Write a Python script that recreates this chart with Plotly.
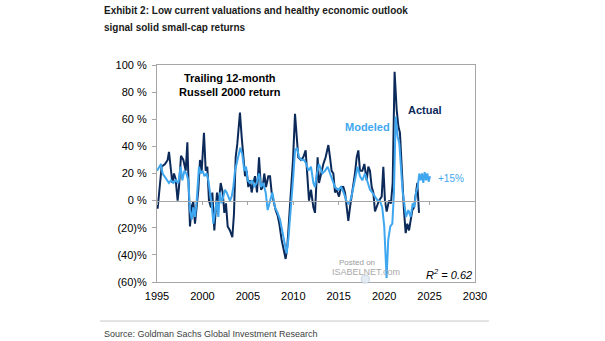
import plotly.graph_objects as go

# Trailing 12-month Russell 2000 return (%), actual vs. modeled
actual_year = [1995.07, 1995.33, 1995.51, 1995.88, 1996.17, 1996.32, 1996.50, 1996.69, 1996.87, 1997.05,
               1997.27, 1997.42, 1997.64, 1997.90, 1998.16, 1998.34, 1998.45, 1998.63, 1998.82, 1999.00,
               1999.18, 1999.37, 1999.55, 1999.73, 1999.92, 2000.17, 2000.36, 2000.54, 2000.72, 2000.94,
               2001.09, 2001.31, 2001.46, 2001.60, 2001.75, 2002.01, 2002.23, 2002.41, 2002.59, 2002.78,
               2003.03, 2003.29, 2003.47, 2003.66, 2003.84, 2004.02, 2004.13, 2004.32, 2004.50, 2004.69,
               2004.87, 2005.05, 2005.24, 2005.42, 2005.60, 2005.79, 2006.01, 2006.23, 2006.45, 2006.63,
               2006.81, 2007.00, 2007.25, 2007.44, 2007.62, 2007.88, 2008.06, 2008.28, 2008.46, 2008.72,
               2008.98, 2009.16, 2009.34, 2009.56, 2009.75, 2009.97, 2010.19, 2010.37, 2010.55, 2010.85,
               2011.10, 2011.36, 2011.58, 2011.73, 2011.95, 2012.21, 2012.39, 2012.55, 2012.68, 2012.83,
               2013.05, 2013.31, 2013.56, 2013.86, 2014.04, 2014.22, 2014.41, 2014.59, 2014.77, 2015.03,
               2015.25, 2015.51, 2015.69, 2015.91, 2016.06, 2016.24, 2016.42, 2016.79, 2016.98, 2017.16,
               2017.34, 2017.60, 2017.82, 2018.08, 2018.26, 2018.44, 2018.63, 2018.81, 2018.99, 2019.18,
               2019.43, 2019.73, 2019.91, 2020.09, 2020.28, 2020.53, 2020.75, 2020.94, 2021.15, 2021.38,
               2021.56, 2021.74, 2021.85, 2022.04, 2022.18, 2022.37, 2022.55, 2022.74, 2022.92, 2023.10,
               2023.29, 2023.47, 2023.65, 2023.84]
actual_ret = [-6, 10, 25, 27, 30, 36, 22, 13, 20, 16,
              0, 10, 33, 30, 22, 43, 18, -19, -4, -1,
              -17, -4, 8, 30, 22, 50, 22, 25, 0, -5,
              6, -22, -2, 6, -5, 13, 6, -9, -2, -19,
              -22, -27, -10, 32, 42, 60, 65, 47, 30, 18,
              22, 10, 15, 6, 13, 18, 6, 32, 8, 10,
              20, 10, 18, 18, 6, -2, -7, -11, -17, -29,
              -39, -43, -34, -14, 10, 30, 64, 47, 32, 30,
              32, 37, 10, 0, 8, -5, -9, 10, 32, 13,
              20, 27, 32, 41, 32, 22, 20, 6, 8, 3,
              10, 10, 6, -5, -15, -5, 3, 20, 32, 37,
              22, 22, 27, 15, 25, 22, 10, 6, -8, -5,
              0, 3, 25, 0, -8, 0, -2, 13, 95, 67,
              55, 50, 35, 6, -7, -24, -17, -22, -14, -7,
              -5, 3, 13, -9]

model_year = [1995.00, 1995.22, 1995.44, 1995.62, 1995.81, 1996.06, 1996.32, 1996.54, 1996.80, 1997.05,
              1997.35, 1997.60, 1997.79, 1998.01, 1998.23, 1998.45, 1998.63, 1998.82, 1999.00, 1999.18,
              1999.37, 1999.62, 1999.81, 2000.03, 2000.21, 2000.47, 2000.65, 2000.83, 2001.02, 2001.20,
              2001.38, 2001.57, 2001.75, 2001.93, 2002.12, 2002.30, 2002.48, 2002.67, 2002.85, 2003.03,
              2003.22, 2003.40, 2003.58, 2003.77, 2003.95, 2004.17, 2004.39, 2004.61, 2004.80, 2004.98,
              2005.24, 2005.49, 2005.71, 2005.97, 2006.23, 2006.45, 2006.70, 2006.96, 2007.18, 2007.44,
              2007.69, 2007.99, 2008.28, 2008.54, 2008.79, 2009.09, 2009.27, 2009.45, 2009.64, 2009.82,
              2010.00, 2010.19, 2010.41, 2010.63, 2010.92, 2011.18, 2011.44, 2011.66, 2011.95, 2012.21,
              2012.39, 2012.61, 2012.83, 2013.20, 2013.49, 2013.78, 2014.04, 2014.30, 2014.59, 2014.96,
              2015.25, 2015.54, 2015.84, 2016.06, 2016.28, 2016.50, 2016.79, 2017.08, 2017.34, 2017.60,
              2017.89, 2018.19, 2018.44, 2018.70, 2018.99, 2019.28, 2019.53, 2019.79, 2020.01, 2020.16,
              2020.27, 2020.45, 2020.68, 2020.90, 2021.08, 2021.27, 2021.49, 2021.67, 2021.85, 2022.04,
              2022.22, 2022.40, 2022.66, 2022.92, 2023.14, 2023.32, 2023.51, 2023.69, 2023.87, 2024.02,
              2024.17, 2024.31, 2024.46, 2024.61, 2024.75, 2024.90, 2025.05]
model_ret = [22, 25, 27, 20, 18, 15, 13, 15, 13, 15,
             13, 25, 15, 22, 20, 15, -7, -14, -5, -12,
             0, 25, 20, 22, 18, 20, 15, 6, -2, -17,
             -10, 0, -12, 6, -2, 3, 8, 6, 3, 0,
             3, 10, 22, 27, 32, 39, 34, 22, 25, 15,
             13, 15, 10, 13, 20, 10, 13, 6, -7, 0,
             6, -5, -9, -14, -22, -31, -39, -29, -14, -2,
             18, 37, 39, 32, 30, 30, 27, 22, 25, 13,
             10, 20, 27, 20, 22, 25, 20, 15, 10, 8,
             10, 6, 0, -2, 0, 6, 15, 25, 18, 15,
             20, 13, 8, 6, 3, 0, 0, -5, -19, -45,
             -57, -29, -19, -17, 6, 62, 47, 42, 20, 6,
             -2, -12, -7, -12, -2, -5, 6, 10, 20, 15,
             20, 13, 21, 15, 20, 14, 18]

y_ticks = [100, 80, 60, 40, 20, 0, -20, -40, -60]
y_tick_text = ["100 %", "80 %", "60 %", "40 %", "20 %", "0 %", "(20)%", "(40)%", "(60)%"]
x_ticks = [1995, 2000, 2005, 2010, 2015, 2020, 2025, 2030]

NAVY = "#0b2a5a"
LIGHT = "#3fa7ef"
GRID = "#a6a6a6"
X_RANGE = [1995, 2030]
Y_RANGE = [-60, 100]
SANS = "Liberation Sans, Arial, sans-serif"

fig = go.Figure()
fig.add_trace(go.Scatter(x=actual_year, y=actual_ret, mode="lines", name="Actual",
                         line=dict(color=NAVY, width=2)))
fig.add_trace(go.Scatter(x=model_year, y=model_ret, mode="lines", name="Modeled",
                         xaxis="x2", line=dict(color=LIGHT, width=2)))

axis_font = dict(family=SANS, size=11, color="#000000")
fig.update_layout(
    width=605, height=341,
    margin=dict(l=157, r=130, t=65, b=59),
    paper_bgcolor="white", plot_bgcolor="white",
    showlegend=False,
    font=axis_font,
    xaxis=dict(range=X_RANGE, tickvals=x_ticks, ticks="", showgrid=False, zeroline=False,
               showline=True, mirror=True, linecolor=GRID, linewidth=1,
               tickfont=axis_font, ticklabelstandoff=4),
    # the horizontal axis line through 0 %, with its own tick marks
    xaxis2=dict(range=X_RANGE, overlaying="x", anchor="free",
                position=(0 - Y_RANGE[0]) / (Y_RANGE[1] - Y_RANGE[0]),
                tickvals=x_ticks, ticks="outside", ticklen=3, tickcolor=GRID,
                showticklabels=False, showgrid=False, zeroline=False,
                showline=True, linecolor=GRID, linewidth=1),
    yaxis=dict(range=Y_RANGE, tickvals=y_ticks, ticktext=y_tick_text, ticks="outside",
               ticklen=4, tickcolor=GRID, showgrid=False, zeroline=False,
               showline=True, mirror=True, linecolor=GRID, linewidth=1,
               tickfont=axis_font, ticklabelstandoff=3),
)

title_font = dict(family=SANS, size=10, color="#1a1a1a")
fig.add_annotation(xref="paper", yref="paper", x=-0.173, y=1.253, xanchor="left", yanchor="middle",
                   text="<b>Exhibit 2: Low current valuations and healthy economic outlook</b>",
                   showarrow=False, font=title_font)
fig.add_annotation(xref="paper", yref="paper", x=-0.173, y=1.175, xanchor="left", yanchor="middle",
                   text="<b>signal solid small-cap returns</b>", showarrow=False, font=title_font)

# source line and the rule above it
fig.add_shape(type="line", xref="paper", yref="paper", x0=-0.179, x1=1.044, y0=-0.18, y1=-0.18,
              line=dict(color="#c8c8c8", width=1))
fig.add_annotation(xref="paper", yref="paper", x=-0.173, y=-0.24, xanchor="left", yanchor="middle",
                   text="Source: Goldman Sachs Global Investment Research", showarrow=False,
                   font=dict(family=SANS, size=9, color="#404040"))

label_font = dict(family=SANS, size=11)
fig.add_annotation(x=2003.0, y=85, text="<b>Trailing 12-month<br>Russell 2000 return</b>",
                   showarrow=False, font=dict(label_font, color="#000000"), align="center")
fig.add_annotation(x=2024.55, y=67, text="<b>Actual</b>", showarrow=False,
                   font=dict(label_font, color=NAVY))
fig.add_annotation(x=2018.2, y=54, text="<b>Modeled</b>", showarrow=False,
                   font=dict(label_font, color=LIGHT))
fig.add_annotation(x=2027.4, y=16.4, text="+15%", showarrow=False,
                   font=dict(family=SANS, size=10, color=LIGHT))
fig.add_annotation(x=2027.1, y=-54, text="<i>R<sup>2</sup> = 0.62</i>", showarrow=False,
                   font=dict(family=SANS, size=11, color="#000000"))

# small watermark
fig.add_annotation(xref="paper", yref="paper", x=0.692, y=0.06, text="Posted on", showarrow=False,
                   font=dict(family=SANS, size=8, color="#9a9a9a"))
fig.add_annotation(xref="paper", yref="paper", x=0.77, y=0.014, text="ISABELNET.com", showarrow=False,
                   font=dict(family=SANS, size=9, color="#a8a8a8"))
fig.add_shape(type="circle", xref="paper", yref="paper", x0=0.642, x1=0.668, y0=-0.005, y1=0.032,
              line=dict(color="#c9d6e3", width=1), fillcolor="#e3ebf3")

fig.write_html("out.html")
